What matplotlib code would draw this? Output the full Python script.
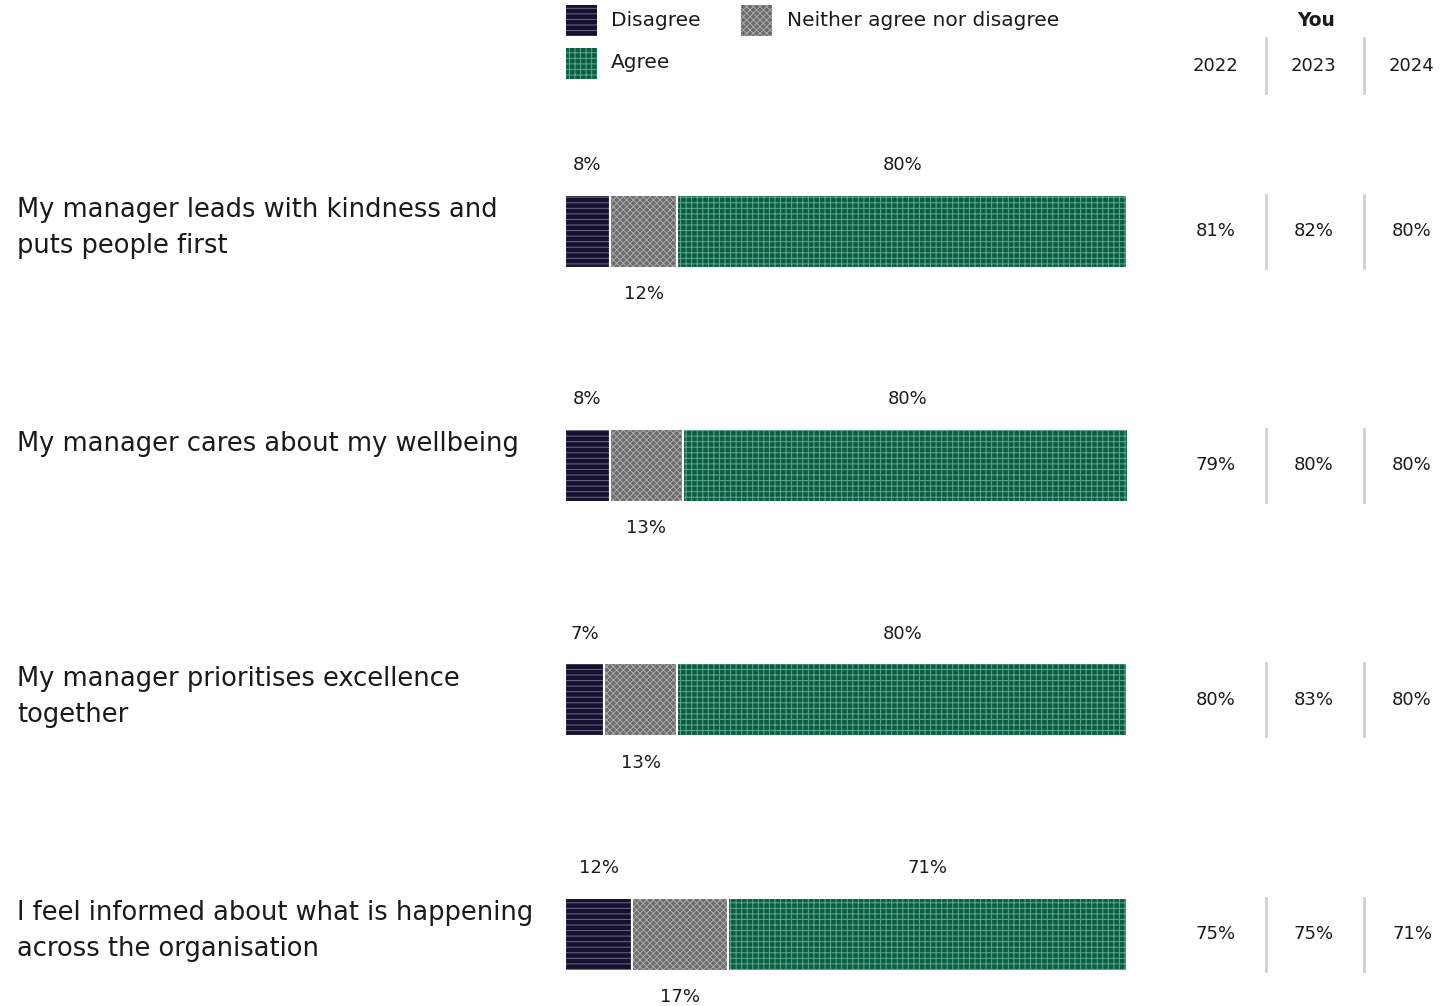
import matplotlib.pyplot as plt
import matplotlib.transforms as mtransforms
from matplotlib.patches import Rectangle
import numpy as np

plt.rcParams['font.family'] = ['DejaVu Sans']
plt.rcParams['hatch.linewidth'] = 0.7

# data
questions = ["My manager leads with kindness and\nputs people first",
             "My manager cares about my wellbeing",
             "My manager prioritises excellence\ntogether",
             "I feel informed about what is happening\nacross the organisation"]
disagree = [8, 8, 7, 12]
neither = [12, 13, 13, 17]
agree = [80, 80, 80, 71]
years = ["2022", "2023", "2024"]
you_2022 = [81, 79, 80, 75]
you_2023 = [82, 80, 83, 75]
you_2024 = [80, 80, 80, 71]

W, H = 1448, 1006
fig = plt.figure(figsize=(W / 100, H / 100), dpi=100)

row_px = 234.3
top_px = 114
ax = fig.add_axes([565 / W, 0, 562 / W, 1 - top_px / H])
ax.set_xlim(0, 100)
ax.set_ylim(-0.5 + (H - top_px) / row_px, -0.5)
ax.axis('off')

bar_h = 73 / row_px
txt_col = '#1a1a1a'
num_fs = 13

styles = [
    # face, hatch colour, hatch
    ('#16112e', '#6e6a86', '---'),
    ('#6c6c6c', '#aaaaaa', 'xxxxx'),
    ('#0b5e43', '#5ea88c', '+++'),
]
names = ["Disagree", "Neither agree nor disagree", "Agree"]

y = np.arange(len(questions))
left = np.zeros(len(questions))
for vals, (fc, hc, hatch) in zip([disagree, neither, agree], styles):
    vals = np.array(vals, dtype=float)
    ax.barh(y, vals, left=left, height=bar_h, color=fc, edgecolor=hc,
            hatch=hatch, linewidth=0)
    ax.barh(y, vals, left=left, height=bar_h, color='none', edgecolor='white',
            linewidth=1.5)
    left += vals

off_up = -66 / row_px
off_dn = 63 / row_px
for i in range(len(questions)):
    d, n, a = disagree[i], neither[i], agree[i]
    ax.text(d / 2, i + off_up, f"{d}%", ha='center', va='center',
            fontsize=num_fs, color=txt_col)
    ax.text(d + n / 2, i + off_dn, f"{n}%", ha='center', va='center',
            fontsize=num_fs, color=txt_col)
    ax.text(d + n + a / 2, i + off_up, f"{a}%", ha='center', va='center',
            fontsize=num_fs, color=txt_col)

# question labels
blend = mtransforms.blended_transform_factory(fig.transFigure, ax.transData)
for i, q in enumerate(questions):
    for j, line in enumerate(q.split('\n')):
        ax.text(17 / W, i + (-21 + 36 * j) / row_px, line, transform=blend,
                ha='left', va='center', fontsize=18.5, color=txt_col)

# "You" columns
col_x = [1216, 1314, 1412]
sep_x = [1266, 1364]
for i in range(len(questions)):
    for cx, vals in zip(col_x, [you_2022, you_2023, you_2024]):
        ax.text(cx / W, i, f"{vals[i]}%", transform=blend, ha='center',
                va='center', fontsize=num_fs, color=txt_col)
    for sx in sep_x:
        ax.plot([sx / W, sx / W], [i - bar_h / 2, i + bar_h / 2],
                transform=blend, color='#d0d0d0', lw=2, clip_on=False)

fig.text(1316 / W, 1 - 20 / H, "You", ha='center', va='center',
         fontsize=13.5, fontweight='bold', color=txt_col)
for cx, yr in zip(col_x, years):
    fig.text(cx / W, 1 - 66 / H, yr, ha='center', va='center',
             fontsize=num_fs, color=txt_col)
for sx in sep_x:
    fig.add_artist(plt.Line2D([sx / W, sx / W], [1 - 38 / H, 1 - 93 / H],
                              color='#d0d0d0', lw=2))

# legend
leg_pos = [(566, 5, 611, 20), (741, 5, 787, 20), (566, 48, 611, 62)]
for (px, py, tx, ty), (fc, hc, hatch), name in zip(leg_pos, styles, names):
    fig.add_artist(Rectangle((px / W, 1 - (py + 31) / H), 31 / W, 31 / H,
                             transform=fig.transFigure, facecolor=fc,
                             edgecolor=hc, hatch=hatch, linewidth=0))
    fig.text(tx / W, 1 - ty / H, name, ha='left', va='center',
             fontsize=14.5, color=txt_col)

fig.savefig('out.png', dpi=100)
